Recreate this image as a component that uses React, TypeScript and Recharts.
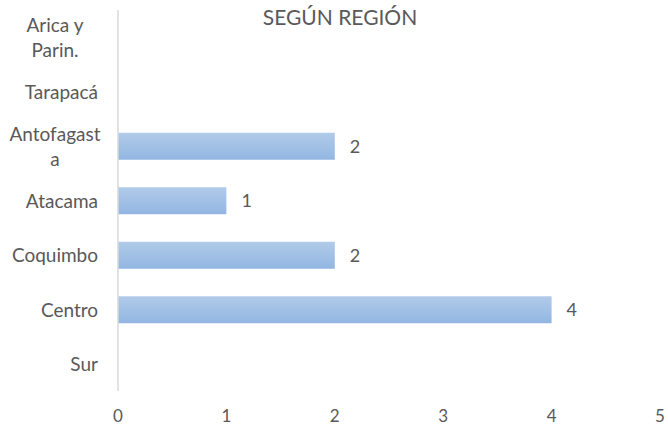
import { Bar, BarChart, LabelList, XAxis, YAxis } from 'recharts'

const regions = ['Arica y Parin.', 'Tarapacá', 'Antofagasta', 'Atacama', 'Coquimbo', 'Centro', 'Sur']
const counts = [0, 0, 2, 1, 2, 4, 0]
const xTicks = [0, 1, 2, 3, 4, 5]

const data = regions.map((region, i) => ({ region, value: counts[i] }))

const FONT = 'Lato, sans-serif'
const TEXT = '#595959'
const FS = 18

// Excel-style wrap: break on words, hard-break words longer than the limit
function wrapLabel(text: string, max = 10): string[] {
  const lines: string[] = []
  let cur = ''
  for (const word of text.split(' ')) {
    let w = word
    const cand = cur ? `${cur} ${w}` : w
    if (cand.length <= max) {
      cur = cand
      continue
    }
    if (cur) lines.push(cur)
    while (w.length > max) {
      lines.push(w.slice(0, max))
      w = w.slice(max)
    }
    cur = w
  }
  if (cur) lines.push(cur)
  return lines
}

function RegionTick(props: any) {
  const { x, y, payload } = props
  const lines = wrapLabel(String(payload.value))
  const lh = 25
  const startY = y - ((lines.length - 1) * lh) / 2
  // wrapped labels are centred in the label box, single lines hug the axis
  const multi = lines.length > 1
  const tx = multi ? x - 63 : x - 20
  return (
    <g>
      {lines.map((l, i) => (
        <text
          key={i}
          x={tx}
          y={startY + i * lh}
          textAnchor={multi ? 'middle' : 'end'}
          dominantBaseline="central"
          fill={TEXT}
          fontSize={19}
          fontFamily={FONT}
        >
          {l}
        </text>
      ))}
    </g>
  )
}

export default function App() {
  return (
    <div style={{ position: 'absolute', left: 0, top: 0, width: 668, height: 428, background: '#fff', fontFamily: FONT }}>
      <svg width={0} height={0} style={{ position: 'absolute' }}>
        <defs>
          <linearGradient id="barFill" x1="0" y1="0" x2="0" y2="1">
            <stop offset="0%" stopColor="#b1cbe9" />
            <stop offset="100%" stopColor="#92b6e2" />
          </linearGradient>
        </defs>
      </svg>
      <div
        style={{
          position: 'absolute',
          left: 240,
          width: 200,
          top: 3,
          textAlign: 'center',
          fontSize: 21,
          lineHeight: '28px',
          color: TEXT,
        }}
      >
        SEGÚN REGIÓN
      </div>
      <BarChart
        width={668}
        height={428}
        data={data}
        layout="vertical"
        margin={{ top: 10, right: 8, left: 0, bottom: 0 }}
      >
        <XAxis
          type="number"
          dataKey="value"
          domain={[0, 5]}
          ticks={xTicks}
          axisLine={false}
          tickLine={false}
          tickSize={0}
          tickMargin={19}
          height={37}
          fontSize={17}
          tick={{ fill: TEXT, fontFamily: FONT, fontSize: 17 }}
        />
        <YAxis
          type="category"
          dataKey="region"
          width={118}
          axisLine={{ stroke: '#d9d9d9', strokeWidth: 1.5 }}
          tickLine={false}
          tickSize={0}
          tickMargin={0}
          interval={0}
          tick={<RegionTick />}
        />
        <Bar dataKey="value" fill="url(#barFill)" barSize={27} isAnimationActive={false}>
          <LabelList
            dataKey="value"
            position="right"
            offset={15}
            fill={TEXT}
            fontSize={FS}
            fontFamily={FONT}
            formatter={(v: any) => (v ? v : '')}
          />
        </Bar>
      </BarChart>
    </div>
  )
}
